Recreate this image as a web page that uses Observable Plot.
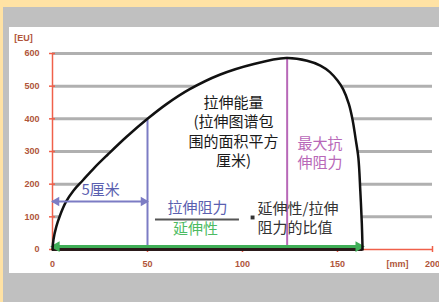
<!DOCTYPE html>
<html>
<head>
<meta charset="utf-8">
<script src="https://cdn.jsdelivr.net/npm/d3@7"></script>
<script src="https://cdn.jsdelivr.net/npm/@observablehq/plot@0.6"></script>
<style>
  html, body { margin: 0; padding: 0; overflow: hidden; width: 439px; height: 302px; }
  #wrap { position: relative; width: 439px; height: 302px; background: #FFE2A4; overflow: hidden; }
  #gray { position: absolute; left: 3px; top: 7px; right: 0; bottom: 0; background: #C0C0C0; }
  #white { position: absolute; left: 9px; top: 27px; width: 430px; height: 246px; background: #FFFFFF; }
  #chart { position: absolute; left: 0; top: 0; width: 439px; height: 302px; overflow: hidden; }
</style>
</head>
<body>
<div id="wrap"><div id="gray"></div><div id="white"></div><div id="chart"></div></div>
<script>
// Extensograph curve (mm, EU)
const curveMm = [0, 0.5, 2, 4, 7, 11, 16, 22, 29, 39, 50, 60, 72, 88, 106, 123, 134, 141, 146, 150, 153, 156, 158, 159.5, 161, 162, 162.8, 163.2];
const curveEU = [0, 30, 70, 105, 145, 180, 212, 250, 290, 345, 400, 445, 490, 535, 568, 586, 578, 563, 543, 517, 490, 445, 395, 340, 280, 180, 80, 0];
const yTicks = [0, 100, 200, 300, 400, 500, 600];
const gridTicks = [100, 200, 300, 400, 500, 600];
const xTicks = [0, 50, 100, 150, 200];
const xTickMarks = [50, 100, 150, 200];
const yUnit = "[EU]";
const xUnit = "[mm]";
const xUnitPos = [181.6];
const fiveCmStart = [0], fiveCmEnd = [50], fiveCmLevel = [147], fiveCmTop = [400];
const peakMm = [123.5], peakEU = [588];
const extEnd = [163.2], extLevel = [9];
const energyText = "拉伸能量\n(拉伸图谱包\n围的面积平方\n厘米)";
const maxText = "最大抗\n伸阻力";
const fiveCmText = "5厘米";
const numText = "拉伸阻力";
const denText = "延伸性";
const ratioText = "延伸性/拉伸\n阻力的比值";

const curve = curveMm.map((m, i) => ({mm: m, eu: curveEU[i]}));

const RED = "#f0604a", LABEL = "#b0553a", GRID = "#b0b0b0";
const BLUE_LINE = "#7c7cc4", BLUE_TEXT = "#5a60b0", MAG = "#b868b8", GREEN = "#3fae57", GREEN_TEXT = "#4cbb62";
const NUM_FONT = "Liberation Sans, Arial, sans-serif";
const CJK = "Noto Sans CJK SC, sans-serif";

const plot = Plot.plot({
  width: 439, height: 302,
  marginLeft: 52, marginRight: 7, marginTop: 53, marginBottom: 53,
  x: {domain: [0, 200], axis: null},
  y: {domain: [0, 600], axis: null},
  style: {background: "transparent", overflow: "hidden"},
  marks: [
    Plot.ruleY(gridTicks, {x1: 0, x2: 200, stroke: GRID, strokeWidth: 3}),
    Plot.areaY(curve, {x: "mm", y: "eu", fill: "white", curve: "catmull-rom"}),
    // x axis
    Plot.ruleY([0], {x1: 0, x2: 200, stroke: RED, strokeWidth: 1.5}),
    Plot.ruleX(xTickMarks, {y: 0, insetTop: -3, insetBottom: -3, stroke: RED, strokeWidth: 1.5}),
    Plot.text(xTicks, {x: d => d, y: 0, dy: 15, text: d => String(d), fill: LABEL, fontWeight: "bold", fontSize: 9, fontFamily: NUM_FONT}),
    Plot.text(xUnitPos, {x: d => d, y: 0, dy: 15, text: () => xUnit, fill: LABEL, fontWeight: "bold", fontSize: 9, fontFamily: NUM_FONT}),
    // y axis
    Plot.ruleX([0], {y1: 0, y2: 600, stroke: RED, strokeWidth: 1.5}),
    Plot.ruleY(yTicks, {x: 0, insetLeft: -3, insetRight: -3, stroke: RED, strokeWidth: 1.5}),
    Plot.text(yTicks, {x: 0, y: d => d, dx: -13, textAnchor: "end", text: d => String(d), fill: LABEL, fontWeight: "bold", fontSize: 9, fontFamily: NUM_FONT}),
    Plot.text([600], {x: 0, y: d => d, dx: -29, dy: -15, text: () => yUnit, fill: LABEL, fontWeight: "bold", fontSize: 9, fontFamily: NUM_FONT}),
    // 5 cm vertical
    Plot.ruleX(fiveCmEnd, {y1: 0, y2: fiveCmTop[0], stroke: BLUE_LINE, strokeWidth: 2}),
    // peak vertical
    Plot.ruleX(peakMm, {y1: 0, y2: peakEU[0], stroke: MAG, strokeWidth: 2}),
    // baseline
    Plot.ruleY([0], {x1: 0, x2: extEnd[0], stroke: "#2a1a1a", strokeWidth: 3}),
    // green extensibility arrow
    Plot.ruleY(extLevel, {x1: 0, x2: extEnd[0], stroke: GREEN, strokeWidth: 3}),
    Plot.dot([{x: 0, y: extLevel[0]}], {x: "x", y: "y", symbol: "triangle", rotate: -90, r: 4, fill: GREEN, dx: 4}),
    Plot.dot([{x: extEnd[0], y: extLevel[0]}], {x: "x", y: "y", symbol: "triangle", rotate: 90, r: 4, fill: GREEN, dx: -4}),
    // curve
    Plot.line(curve, {x: "mm", y: "eu", stroke: "#111", strokeWidth: 2.5, curve: "catmull-rom"}),
    // 5 cm double arrow
    Plot.ruleY(fiveCmLevel, {x1: fiveCmStart[0], x2: fiveCmEnd[0], stroke: BLUE_LINE, strokeWidth: 2}),
    Plot.dot([{x: fiveCmStart[0], y: fiveCmLevel[0]}], {x: "x", y: "y", symbol: "triangle", rotate: -90, r: 3.5, fill: BLUE_LINE, dx: 4}),
    Plot.dot([{x: fiveCmEnd[0], y: fiveCmLevel[0]}], {x: "x", y: "y", symbol: "triangle", rotate: 90, r: 3.5, fill: BLUE_LINE, dx: -4}),
    // texts
    Plot.text([fiveCmText], {x: 25.3, y: 180.6, text: d => d, fill: BLUE_TEXT, fontSize: 15, fontFamily: CJK}),
    Plot.text([energyText], {x: 95.3, y: 362.8, text: d => d, fill: "#1a1a1a", fontSize: 15, lineHeight: 1.3, fontFamily: CJK}),
    Plot.text([maxText], {x: 128.9, y: 297, text: d => d, textAnchor: "start", fill: MAG, fontSize: 15, lineHeight: 1.25, fontFamily: CJK}),
    Plot.text([numText], {x: 76.3, y: 125.5, text: d => d, fill: BLUE_TEXT, fontSize: 15, fontFamily: CJK}),
    Plot.ruleY([91.8], {x1: 54.2, x2: 98.4, stroke: "#555", strokeWidth: 2}),
    Plot.text([denText], {x: 75.3, y: 61.2, text: d => d, fill: GREEN_TEXT, fontSize: 15, fontFamily: CJK}),
    Plot.dot([{x: 105.3, y: 98}], {x: "x", y: "y", symbol: "square", r: 2.2, fill: "#333"}),
    Plot.text([ratioText], {x: 107.9, y: 98, text: d => d, textAnchor: "start", fill: "#333", fontSize: 15, lineHeight: 1.25, fontFamily: CJK})
  ]
});
document.getElementById("chart").appendChild(plot);
</script>
</body>
</html>
